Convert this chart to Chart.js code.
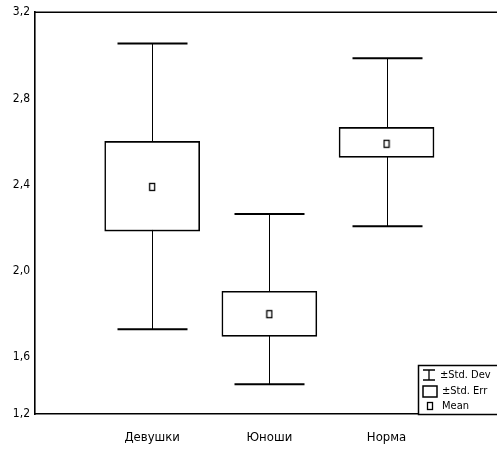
<!DOCTYPE html>
<html><head><meta charset="utf-8">
<script src="https://cdn.jsdelivr.net/npm/chart.js@4/dist/chart.umd.min.js"></script>
<style>html,body{margin:0;padding:0;background:#fff}</style>
</head><body>
<canvas id="c" width="497" height="475"></canvas>
<script>
// ---- data ----
const categories = ['Девушки', 'Юноши', 'Норма'];
const xPositions = [1, 2, 3];
const means  = [2.39, 1.80, 2.59];
const seLow  = [2.185, 1.697, 2.527];
const seHigh = [2.601, 1.906, 2.666];
const sdLow  = [1.730, 1.475, 2.207];
const sdHigh = [3.055, 2.264, 2.987];
const yTickValues = [1.337, 1.6, 2.0, 2.4, 2.8, 3.2];
const yTickLabels = ['1,2', '1,6', '2,0', '2,4', '2,8', '3,2'];
const legendLabels = ['\u00B1Std. Dev', '\u00B1Std. Err', 'Mean'];

const FONT = "'Liberation Sans Narrow','DejaVu Sans Condensed','Liberation Sans',sans-serif";
const CAP = 35;

function meanIcon() {
  const c = document.createElement('canvas');
  c.width = 8; c.height = 10;
  const g = c.getContext('2d');
  g.strokeStyle = '#000'; g.lineWidth = 1.3;
  g.strokeRect(1.5, 1.5, 5, 7);
  return c;
}
const meanImg = meanIcon();

const whiskerPlugin = {
  id: 'whiskers',
  beforeDatasetsDraw(chart) {
    const {ctx, scales: {x, y}} = chart;
    ctx.save();
    ctx.strokeStyle = '#000';
    xPositions.forEach((xv, i) => {
      const px = Math.round(x.getPixelForValue(xv)) + 0.5;
      const top = y.getPixelForValue(sdHigh[i]);
      const bot = y.getPixelForValue(sdLow[i]);
      ctx.lineWidth = 1;
      ctx.beginPath(); ctx.moveTo(px, top); ctx.lineTo(px, bot); ctx.stroke();
      ctx.lineWidth = 2;
      ctx.beginPath();
      ctx.moveTo(px - CAP, top); ctx.lineTo(px + CAP, top);
      ctx.moveTo(px - CAP, bot); ctx.lineTo(px + CAP, bot);
      ctx.stroke();
    });
    ctx.restore();
  }
};

const framePlugin = {
  id: 'frame',
  afterDraw(chart) {
    const {ctx, chartArea: a} = chart;
    const W = chart.width;
    ctx.save();
    ctx.strokeStyle = '#000';
    ctx.lineWidth = 1.6;
    ctx.beginPath();
    ctx.moveTo(a.left, a.top); ctx.lineTo(W, a.top);
    ctx.moveTo(a.right - 1, a.bottom); ctx.lineTo(W, a.bottom);
    ctx.stroke();
    // legend
    const lx = W - 79, ly = a.bottom - 49;
    ctx.fillStyle = '#fff';
    ctx.fillRect(lx, ly, 79, 49);
    ctx.lineWidth = 1.5;
    ctx.strokeRect(lx + 0.5, ly + 0.5, 82, 49);
    const rows = [ly + 10, ly + 26, ly + 41];
    // I-beam icon
    ctx.lineWidth = 1.3;
    ctx.beginPath();
    ctx.moveTo(lx + 5, rows[0] - 5); ctx.lineTo(lx + 17, rows[0] - 5);
    ctx.moveTo(lx + 5, rows[0] + 5); ctx.lineTo(lx + 17, rows[0] + 5);
    ctx.moveTo(lx + 11, rows[0] - 5); ctx.lineTo(lx + 11, rows[0] + 5);
    ctx.stroke();
    // box icon
    ctx.lineWidth = 1.5;
    ctx.strokeRect(lx + 5, rows[1] - 5, 14, 11);
    // mean icon
    ctx.drawImage(meanImg, lx + 8, rows[2] - 5);
    ctx.fillStyle = '#000';
    ctx.font = '11px ' + FONT;
    ctx.textBaseline = 'middle';
    ctx.textAlign = 'left';
    ctx.fillText(legendLabels[0], lx + 22, rows[0]);
    ctx.fillText(legendLabels[1], lx + 24, rows[1]);
    ctx.fillText(legendLabels[2], lx + 24, rows[2]);
    ctx.restore();
  }
};

new Chart(document.getElementById('c'), {
  type: 'bar',
  data: {
    datasets: [
      {
        type: 'scatter', label: 'Mean',
        data: means.map((m, i) => ({x: xPositions[i], y: m})),
        pointStyle: meanImg, pointRadius: 4, order: 0
      },
      {
        type: 'bar', label: 'SE',
        data: seLow.map((l, i) => ({x: xPositions[i], y: [l, seHigh[i]]})),
        backgroundColor: '#fff', borderColor: '#000', borderWidth: 1.6,
        borderSkipped: false, barThickness: 95, order: 1
      }
    ]
  },
  options: {
    responsive: false, devicePixelRatio: 1, animation: false,
    layout: {padding: {top: 12, right: 0, bottom: 0, left: 0}},
    plugins: {legend: {display: false}, tooltip: {enabled: false}},
    scales: {
      x: {
        type: 'linear', min: 0, max: 3.9, offset: false,
        grid: {display: false, drawTicks: false},
        border: {display: true, color: '#000', width: 1.6},
        afterBuildTicks: s => { s.ticks = xPositions.map(v => ({value: v})); },
        ticks: {
          callback: (v, i) => categories[i], color: '#000',
          font: {family: FONT, size: 13}, padding: 16, maxRotation: 0, autoSkip: false
        },
        afterFit: s => { s.height = 61; }
      },
      y: {
        type: 'linear', min: yTickValues[0], max: 3.2,
        grid: {display: false, drawTicks: false},
        border: {display: true, color: '#000', width: 1.6},
        afterBuildTicks: s => { s.ticks = yTickValues.map(v => ({value: v})); },
        ticks: {
          callback: (v, i) => yTickLabels[i], color: '#000',
          font: {family: FONT, size: 12}, padding: 5, autoSkip: false
        },
        afterFit: s => { s.width = 35; }
      }
    }
  },
  plugins: [whiskerPlugin, framePlugin]
});
</script>
</body></html>
